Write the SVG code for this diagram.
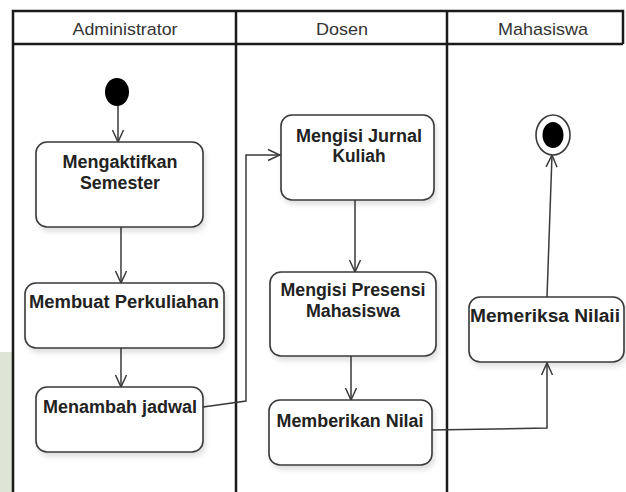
<svg xmlns="http://www.w3.org/2000/svg" width="626" height="492" viewBox="0 0 626 492">
<defs>
<style>
.lane{stroke:#1a1a1a;stroke-width:2.5;fill:none}
.hdr{font-family:"Liberation Sans",Arial,sans-serif;font-size:17px;fill:#333;text-anchor:middle}
.box{fill:#fff;stroke:#3a3a3a;stroke-width:1.6;filter:url(#sh)}
.lbl{font-family:"Liberation Sans",Arial,sans-serif;font-size:18px;font-weight:bold;fill:#222;text-anchor:middle}
.edge{stroke:#3a3a3a;stroke-width:1.5;fill:none;marker-end:url(#arr)}
</style>
<filter id="sh" x="-10%" y="-10%" width="130%" height="140%">
<feDropShadow dx="2" dy="4" stdDeviation="2.5" flood-color="#000" flood-opacity="0.12"/>
</filter>
<marker id="arr" markerUnits="userSpaceOnUse" markerWidth="14" markerHeight="14" viewBox="0 0 14 14" refX="13" refY="7" orient="auto">
<path d="M1,1.5 L13,7 L1,12.5" fill="none" stroke="#3a3a3a" stroke-width="1.5"/>
</marker>
</defs>
<rect x="0" y="0" width="626" height="492" fill="#fff"/>
<rect x="0" y="352" width="12" height="140" fill="#dce5d6"/>
<g id="lanes">
<path class="lane" d="M13,492 V11 H623 V44 M13,44 H623 M236,11 V492 M447,11 V492"/>
<text class="hdr" x="125" y="35" textLength="105" lengthAdjust="spacingAndGlyphs">Administrator</text>
<text class="hdr" x="342" y="35" textLength="52" lengthAdjust="spacingAndGlyphs">Dosen</text>
<text class="hdr" x="543" y="35" textLength="90" lengthAdjust="spacingAndGlyphs">Mahasiswa</text>
</g>
<g id="connectors">
<path class="edge" d="M118,106 V142"/>
<path class="edge" d="M121,227 V283"/>
<path class="edge" d="M121,348 V387"/>
<path class="edge" d="M203,407 L246,401 V155 H280"/>
<path class="edge" d="M355,200 V272"/>
<path class="edge" d="M351,356 V400"/>
<path class="edge" d="M432,430 L547,428 V363"/>
<path class="edge" d="M547,297 L552,155"/>
</g>
<g id="start">
<ellipse cx="117" cy="92" rx="12" ry="14" fill="#000"/>
</g>
<g id="end">
<ellipse cx="553" cy="135" rx="17" ry="20" fill="#fff" stroke="#3a3a3a" stroke-width="1.6"/>
<ellipse cx="553" cy="135" rx="10.5" ry="13" fill="#000"/>
</g>
<g id="n-mengaktifkan">
<rect class="box" x="36" y="142" width="167" height="85" rx="11"/>
<text class="lbl" x="120" y="168" textLength="115" lengthAdjust="spacingAndGlyphs">Mengaktifkan</text>
<text class="lbl" x="120" y="189" textLength="80" lengthAdjust="spacingAndGlyphs">Semester</text>
</g>
<g id="n-membuat">
<rect class="box" x="25" y="283" width="199" height="65" rx="11"/>
<text class="lbl" x="124" y="308" textLength="190" lengthAdjust="spacingAndGlyphs">Membuat Perkuliahan</text>
</g>
<g id="n-menambah">
<rect class="box" x="36" y="387" width="167" height="65" rx="11"/>
<text class="lbl" x="120" y="413" textLength="154" lengthAdjust="spacingAndGlyphs">Menambah jadwal</text>
</g>
<g id="n-jurnal">
<rect class="box" x="281" y="115" width="153" height="85" rx="11"/>
<text class="lbl" x="359" y="142" textLength="126" lengthAdjust="spacingAndGlyphs">Mengisi Jurnal</text>
<text class="lbl" x="359" y="162" textLength="53" lengthAdjust="spacingAndGlyphs">Kuliah</text>
</g>
<g id="n-presensi">
<rect class="box" x="270" y="272" width="166" height="84" rx="11"/>
<text class="lbl" x="353" y="296" textLength="145" lengthAdjust="spacingAndGlyphs">Mengisi Presensi</text>
<text class="lbl" x="353" y="317" textLength="94" lengthAdjust="spacingAndGlyphs">Mahasiswa</text>
</g>
<g id="n-memberikan">
<rect class="box" x="269" y="400" width="163" height="65" rx="11"/>
<text class="lbl" x="350" y="427" textLength="147" lengthAdjust="spacingAndGlyphs">Memberikan Nilai</text>
</g>
<g id="n-memeriksa">
<rect class="box" x="469" y="297" width="155" height="65" rx="11"/>
<text class="lbl" x="545" y="322" textLength="150" lengthAdjust="spacingAndGlyphs">Memeriksa Nilaii</text>
</g>
</svg>
